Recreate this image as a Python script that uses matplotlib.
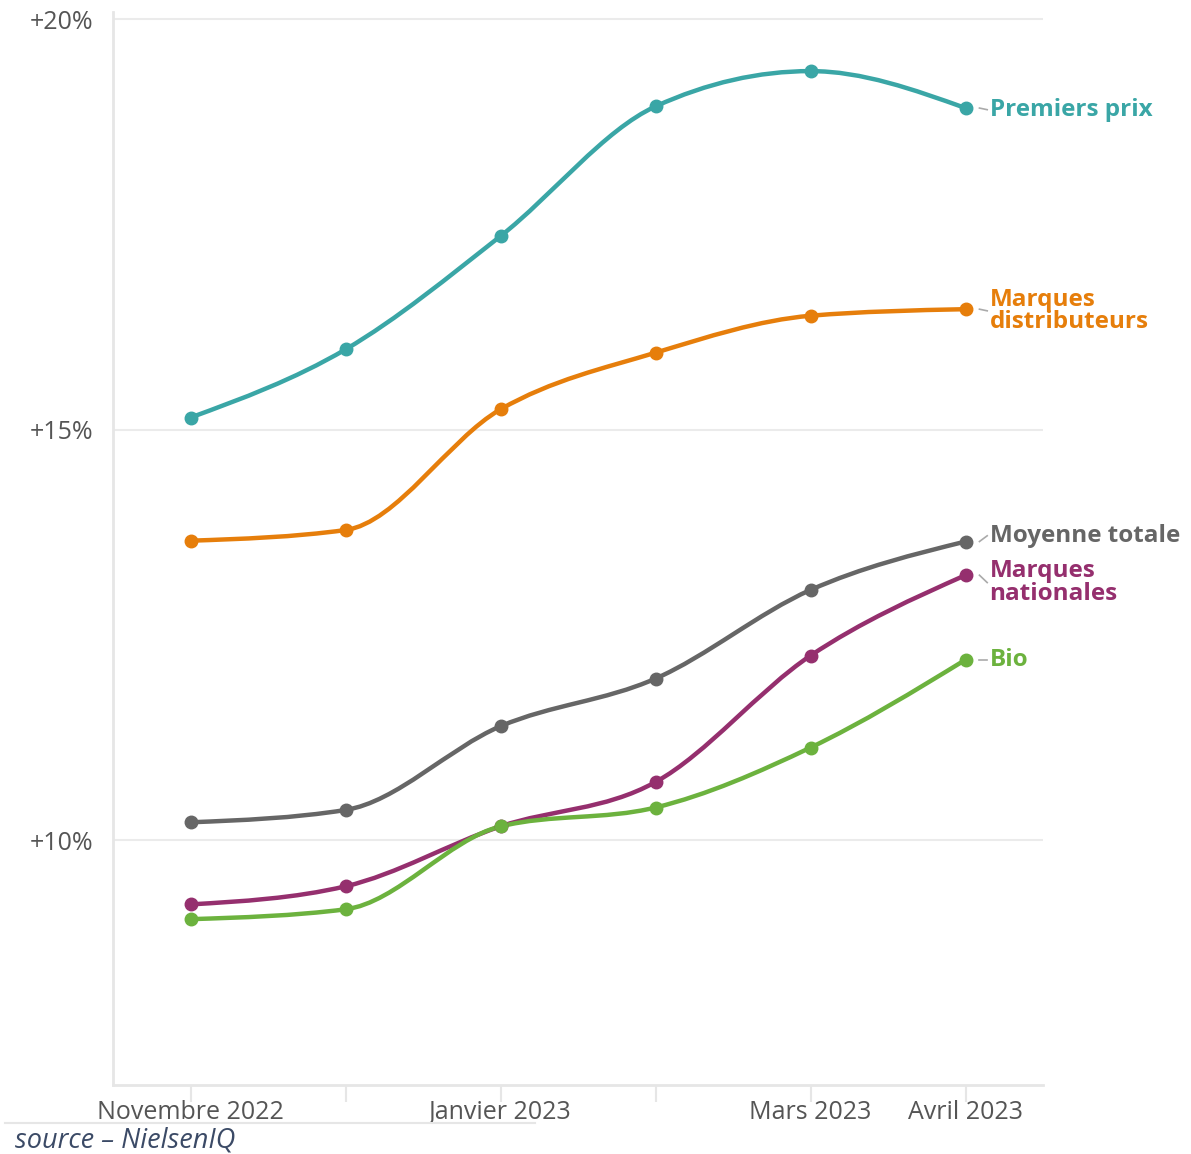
import numpy as np
import matplotlib.pyplot as plt
from matplotlib.path import Path
from matplotlib.patches import PathPatch

plt.rcParams["font.family"] = ["Open Sans", "DejaVu Sans"]

months = ["Novembre 2022", "Décembre 2022", "Janvier 2023", "Février 2023", "Mars 2023", "Avril 2023"]
shown_labels = ["Novembre 2022", "", "Janvier 2023", "", "Mars 2023", "Avril 2023"]

premiers_prix = [15.15, 15.98, 17.36, 18.94, 19.37, 18.92]
marques_distributeurs = [13.65, 13.78, 15.25, 15.94, 16.39, 16.47]
moyenne_totale = [10.22, 10.37, 11.39, 11.97, 13.05, 13.64]
marques_nationales = [9.22, 9.44, 10.17, 10.71, 12.25, 13.23]
bio = [9.04, 9.16, 10.17, 10.40, 11.13, 12.20]

series = [
    ("Premiers prix", premiers_prix, "#3aa6a6"),
    ("Marques\ndistributeurs", marques_distributeurs, "#e67e0b"),
    ("Moyenne totale", moyenne_totale, "#666666"),
    ("Marques\nnationales", marques_nationales, "#952f6e"),
    ("Bio", bio, "#6cb23e"),
]


def monotone_path(x, y):
    # same shape as d3.curveMonotoneX
    x = np.asarray(x, float)
    y = np.asarray(y, float)
    h = np.diff(x)
    s = np.diff(y) / h
    t = np.zeros(len(x))
    for i in range(1, len(x) - 1):
        p = (s[i - 1] * h[i] + s[i] * h[i - 1]) / (h[i - 1] + h[i])
        t[i] = (np.sign(s[i - 1]) + np.sign(s[i])) * min(abs(s[i - 1]), abs(s[i]), 0.5 * abs(p))
    t[0] = (3 * s[0] - t[1]) / 2
    t[-1] = (3 * s[-1] - t[-2]) / 2
    verts = [(x[0], y[0])]
    codes = [Path.MOVETO]
    for i in range(len(x) - 1):
        dx = h[i] / 3
        verts += [(x[i] + dx, y[i] + dx * t[i]), (x[i + 1] - dx, y[i + 1] - dx * t[i + 1]), (x[i + 1], y[i + 1])]
        codes += [Path.CURVE4] * 3
    return Path(verts, codes)


fig = plt.figure(figsize=(11.91, 11.54), dpi=100)
ax = fig.add_axes([113 / 1191, 1 - 1085 / 1154, 930 / 1191, 1073 / 1154])

xpos = np.arange(len(months))
for name, vals, color in series:
    ax.add_patch(PathPatch(monotone_path(xpos, vals), facecolor="none", edgecolor=color, lw=3.2,
                           capstyle="round", zorder=3))
    ax.plot(xpos, vals, "o", color=color, ms=9, zorder=4)

ax.set_xlim(-0.5, 5.5)
ax.set_ylim(7.02, 20.09)

ax.set_yticks([10, 15, 20])
ax.set_yticklabels(["+10%", "+15%", "+20%"], fontsize=18, color="#555555")
ax.set_xticks(xpos)
ax.set_xticklabels(shown_labels, fontsize=18, color="#555555")
ax.tick_params(axis="y", length=0, pad=14)
ax.tick_params(axis="x", length=12, width=1.5, color="#e6e6e6", pad=-1)
ax.grid(axis="y", color="#ebebeb", lw=1.5)
ax.set_axisbelow(True)
for side in ["top", "right"]:
    ax.spines[side].set_visible(False)
for side in ["left", "bottom"]:
    ax.spines[side].set_color("#e6e6e6")
    ax.spines[side].set_linewidth(2)

# end labels
label_y = {
    "Premiers prix": premiers_prix[-1] - 0.02,
    "Marques\ndistributeurs": marques_distributeurs[-1] - 0.02,
    "Moyenne totale": moyenne_totale[-1] + 0.07,
    "Marques\nnationales": marques_nationales[-1] - 0.09,
    "Bio": bio[-1],
}
for name, vals, color in series:
    ly = label_y[name]
    ax.plot([5.09, 5.14], [vals[-1], ly], color="#aaaaaa", lw=1.2, clip_on=False)
    ax.text(5.155, ly, name, color=color, fontsize=17.5, fontweight="bold", va="center",
            ha="left", linespacing=0.9, clip_on=False)

fig.add_artist(plt.Line2D([5 / 1191, 535 / 1191], [1 - 1123 / 1154] * 2, color="#e6e6e6", lw=1.5))
fig.text(15 / 1191, 1 - 1141 / 1154, "source – NielsenIQ", fontsize=19.5, style="italic",
         color="#3b4a66", va="center")

fig.savefig("out.png", dpi=100)
